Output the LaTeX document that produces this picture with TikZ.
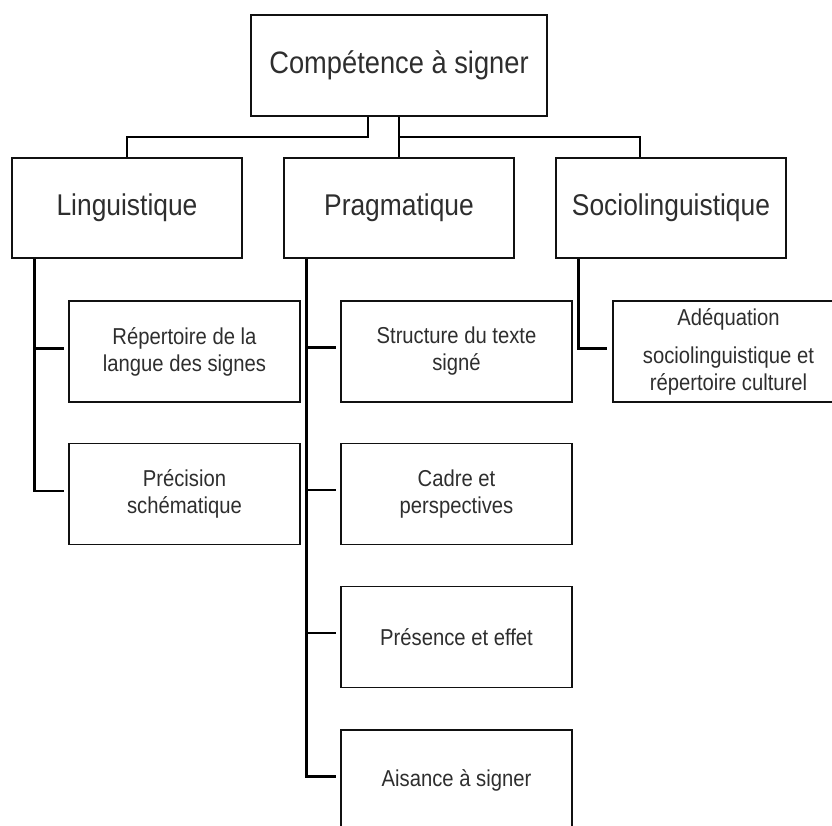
\documentclass[tikz,border=0pt]{standalone}
\usepackage{fontspec}
\setmainfont{Liberation Sans}[FakeStretch=0.88]
\usepackage{tikz}
\usetikzlibrary{calc}
\definecolor{FrameBlack}{HTML}{111111}
\definecolor{LabelGrey}{HTML}{2E2E2E}
\tikzset{
  topbox/.style={draw=FrameBlack,line width=1.4pt,minimum width=296pt,minimum height=101pt,
    font=\fontsize{31}{37}\selectfont,text=LabelGrey},
  areabox/.style={draw=FrameBlack,line width=1.4pt,minimum width=230pt,minimum height=100pt,
    font=\fontsize{30}{36}\selectfont,text=LabelGrey},
  skillbox/.style={draw=FrameBlack,line width=1.4pt,minimum width=231pt,minimum height=101pt,
    align=center,font=\fontsize{23}{27}\selectfont,text=LabelGrey},
  link/.style={line width=2.6pt}
}

\begin{document}
\begin{tikzpicture}[x=1pt,y=-1pt]
    \useasboundingbox (0,0) rectangle (832,826);
    \clip (0,0) rectangle (832,826);

    \node[topbox] (comp) at (399,65.5) {Compétence à signer};

    \node[areabox] (ling) at (127,208) {Linguistique};
    \node[areabox] (prag) at (399,208) {Pragmatique};
    \node[areabox] (socio) at (671,208) {Sociolinguistique};

    \node[skillbox] (rep) at (184.5,351.5) {Répertoire de la\\langue des signes};
    \node[skillbox] (prec) at (184.5,494) {Précision\\schématique};
    \node[skillbox] (struct) at (456.5,351.5) {Structure du texte\\signé};
    \node[skillbox] (cadre) at (456.5,494) {Cadre et\\perspectives};
    \node[skillbox] (pres) at (456.5,637) {Présence et effet};
    \node[skillbox] (ais) at (456.5,780.5) {Aisance à signer};
    \node[skillbox] (adeq) at (728.5,351.5) {Adéquation\\[11pt]sociolinguistique et\\répertoire culturel};

    \coordinate (lfork) at (368,137);
    \coordinate (rfork) at (399,137);

    \draw[link] (comp.south -| lfork) -- (lfork) -| (ling.north);
    \draw[link] (comp.south) -- (prag.north);
    \draw[link] (rfork) -| ([xshift=-31pt]socio.north);

    \foreach \child in {rep,prec}
      \draw[link] ([xshift=23pt]ling.south west) |- ([xshift=-4pt,yshift=3pt]\child.west);
    \foreach \child in {struct,cadre,pres,ais}
      \draw[link] ([xshift=23pt]prag.south west) |- ([xshift=-4pt,yshift=4pt]\child.west);
    \draw[link] ([xshift=23pt]socio.south west) |- ([xshift=-5pt,yshift=3pt]adeq.west);
\end{tikzpicture}
\end{document}
